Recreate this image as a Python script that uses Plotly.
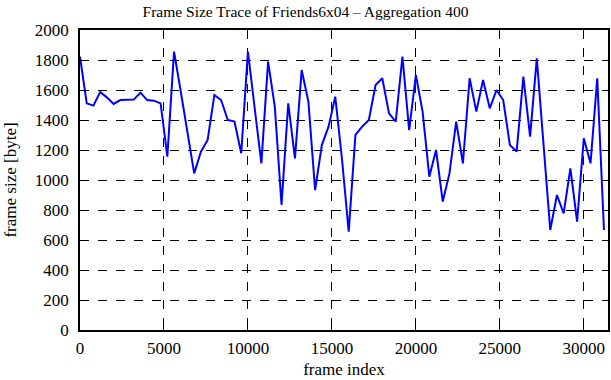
import plotly.graph_objects as go

frame_index = [i * 400 for i in range(79)]
frame_size = [1822, 1511, 1496, 1587, 1551, 1507, 1533, 1533, 1536, 1582,
              1533, 1529, 1511, 1156, 1856, 1590, 1320, 1044, 1189, 1267,
              1567, 1533, 1400, 1389, 1178, 1856, 1480, 1111, 1789, 1489,
              833, 1511, 1144, 1733, 1522, 933, 1233, 1356, 1556, 1140,
              656, 1300, 1356, 1400, 1633, 1678, 1444, 1389, 1822, 1333,
              1700, 1456, 1022, 1200, 856, 1044, 1389, 1111, 1678, 1456,
              1667, 1478, 1600, 1533, 1233, 1189, 1689, 1289, 1811, 1250,
              667, 900, 778, 1078, 722, 1278, 1111, 1678, 667]

x_ticks = [0, 5000, 10000, 15000, 20000, 25000, 30000]
x_tick_labels = [str(v) for v in x_ticks]
y_ticks = list(range(0, 2001, 200))
y_tick_labels = [str(v) for v in y_ticks]

font = "Liberation Serif, Times New Roman, serif"

fig = go.Figure()
fig.add_trace(go.Scatter(x=frame_index, y=frame_size, mode="lines",
                         line=dict(color="#0000ff", width=2), showlegend=False))

axis_common = dict(showline=True, linecolor="black", linewidth=1.5, mirror="allticks",
                   ticks="inside", ticklen=6, tickcolor="black", automargin=False,
                   showgrid=True, gridcolor="black", gridwidth=1, griddash="dash",
                   zeroline=False, tickfont=dict(family=font, size=17, color="black"))

fig.update_xaxes(range=[0, 31440], tickvals=x_ticks, ticktext=x_tick_labels,
                 ticklabelstandoff=2,
                 title=dict(text="frame index", font=dict(family=font, size=17, color="black"), standoff=6),
                 **axis_common)
fig.update_yaxes(range=[0, 2000], tickvals=y_ticks, ticktext=y_tick_labels,
                 ticklabelstandoff=6,
                 title=dict(text="frame size [byte]", font=dict(family=font, size=17, color="black"), standoff=14),
                 **axis_common)

fig.update_layout(
    width=611, height=380,
    margin=dict(l=80, r=3, t=30, b=50),
    paper_bgcolor="white", plot_bgcolor="white",
    title=dict(text="Frame Size Trace of Friends6x04 \u2013 Aggregation 400",
               x=0.5, xanchor="center", y=0.985, yanchor="top",
               font=dict(family=font, size=15.5, color="black")),
)

fig.write_html("out.html", config={"displayModeBar": False},
               post_script="document.body.style.margin='0px';document.body.style.overflow='hidden';")
